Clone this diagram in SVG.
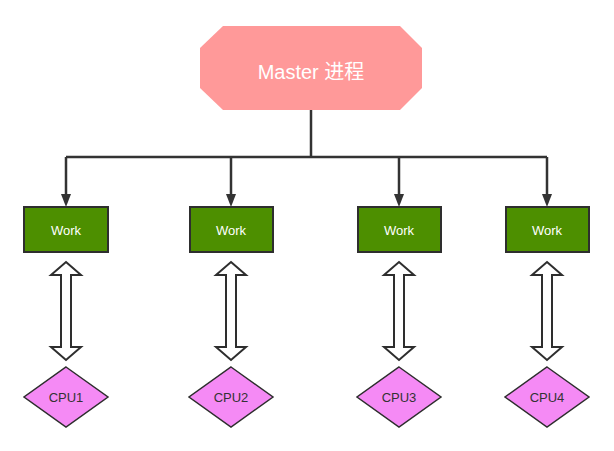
<svg xmlns="http://www.w3.org/2000/svg" width="614" height="451" viewBox="0 0 614 451">
<defs>
<style>
.work{fill:#4d8f00;stroke:#2e2e2e;stroke-width:2}
.cpu{fill:#f58af5;stroke:#2e2e2e;stroke-width:1.5}
.dbl{fill:#fff;stroke:#2e2e2e;stroke-width:2;stroke-linejoin:miter}
.wt{font-family:"Liberation Sans",Arial,sans-serif;font-size:13px;fill:#fff;text-anchor:middle}
.ct{font-family:"Liberation Sans",Arial,sans-serif;font-size:13px;fill:#333;text-anchor:middle}
.conn{fill:none;stroke:#333;stroke-width:2.5}
</style>
</defs>
<rect width="614" height="451" fill="#fff"/>
<g id="connectors">
<path class="conn" d="M311,110 V157"/>
<path class="conn" d="M66,157 H547"/>
<path class="conn" d="M66,157 V195"/>
<path class="conn" d="M231,157 V195"/>
<path class="conn" d="M399,157 V195"/>
<path class="conn" d="M547,157 V195"/>
<path d="M61,194 L71,194 L66,207 Z" fill="#333"/>
<path d="M226,194 L236,194 L231,207 Z" fill="#333"/>
<path d="M394,194 L404,194 L399,207 Z" fill="#333"/>
<path d="M542,194 L552,194 L547,207 Z" fill="#333"/>
<path class="dbl" d="M66,262 L81,275 L71,275 L71,347 L81,347 L66,360 L51,347 L61,347 L61,275 L51,275 Z"/>
<path class="dbl" d="M231,262 L246,275 L236,275 L236,347 L246,347 L231,360 L216,347 L226,347 L226,275 L216,275 Z"/>
<path class="dbl" d="M399,262 L414,275 L404,275 L404,347 L414,347 L399,360 L384,347 L394,347 L394,275 L384,275 Z"/>
<path class="dbl" d="M547,262 L562,275 L552,275 L552,347 L562,347 L547,360 L532,347 L542,347 L542,275 L532,275 Z"/>
</g>
<g id="master">
<path d="M223,26 L400,26 L422,48 L422,88 L400,110 L223,110 L200,88 L200,48 Z" fill="#ff9999"/>
<text x="311" y="79" font-family="'Liberation Sans','Noto Sans CJK SC',sans-serif" font-size="20" fill="#fff" text-anchor="middle">Master 进程</text>
</g>
<g id="work1"><rect class="work" x="24" y="207" width="84" height="45"/><text class="wt" x="66" y="235">Work</text></g>
<g id="work2"><rect class="work" x="190" y="207" width="83" height="45"/><text class="wt" x="231" y="235">Work</text></g>
<g id="work3"><rect class="work" x="358" y="207" width="83" height="45"/><text class="wt" x="399" y="235">Work</text></g>
<g id="work4"><rect class="work" x="506" y="207" width="83" height="45"/><text class="wt" x="547" y="235">Work</text></g>
<g id="cpu1"><path class="cpu" d="M66,367 L108,397 L66,427 L24,397 Z"/><text class="ct" x="66" y="402">CPU1</text></g>
<g id="cpu2"><path class="cpu" d="M231,367 L273,397 L231,427 L189,397 Z"/><text class="ct" x="231" y="402">CPU2</text></g>
<g id="cpu3"><path class="cpu" d="M399,367 L441,397 L399,427 L357,397 Z"/><text class="ct" x="399" y="402">CPU3</text></g>
<g id="cpu4"><path class="cpu" d="M547,367 L589,397 L547,427 L505,397 Z"/><text class="ct" x="547" y="402">CPU4</text></g>
</svg>
